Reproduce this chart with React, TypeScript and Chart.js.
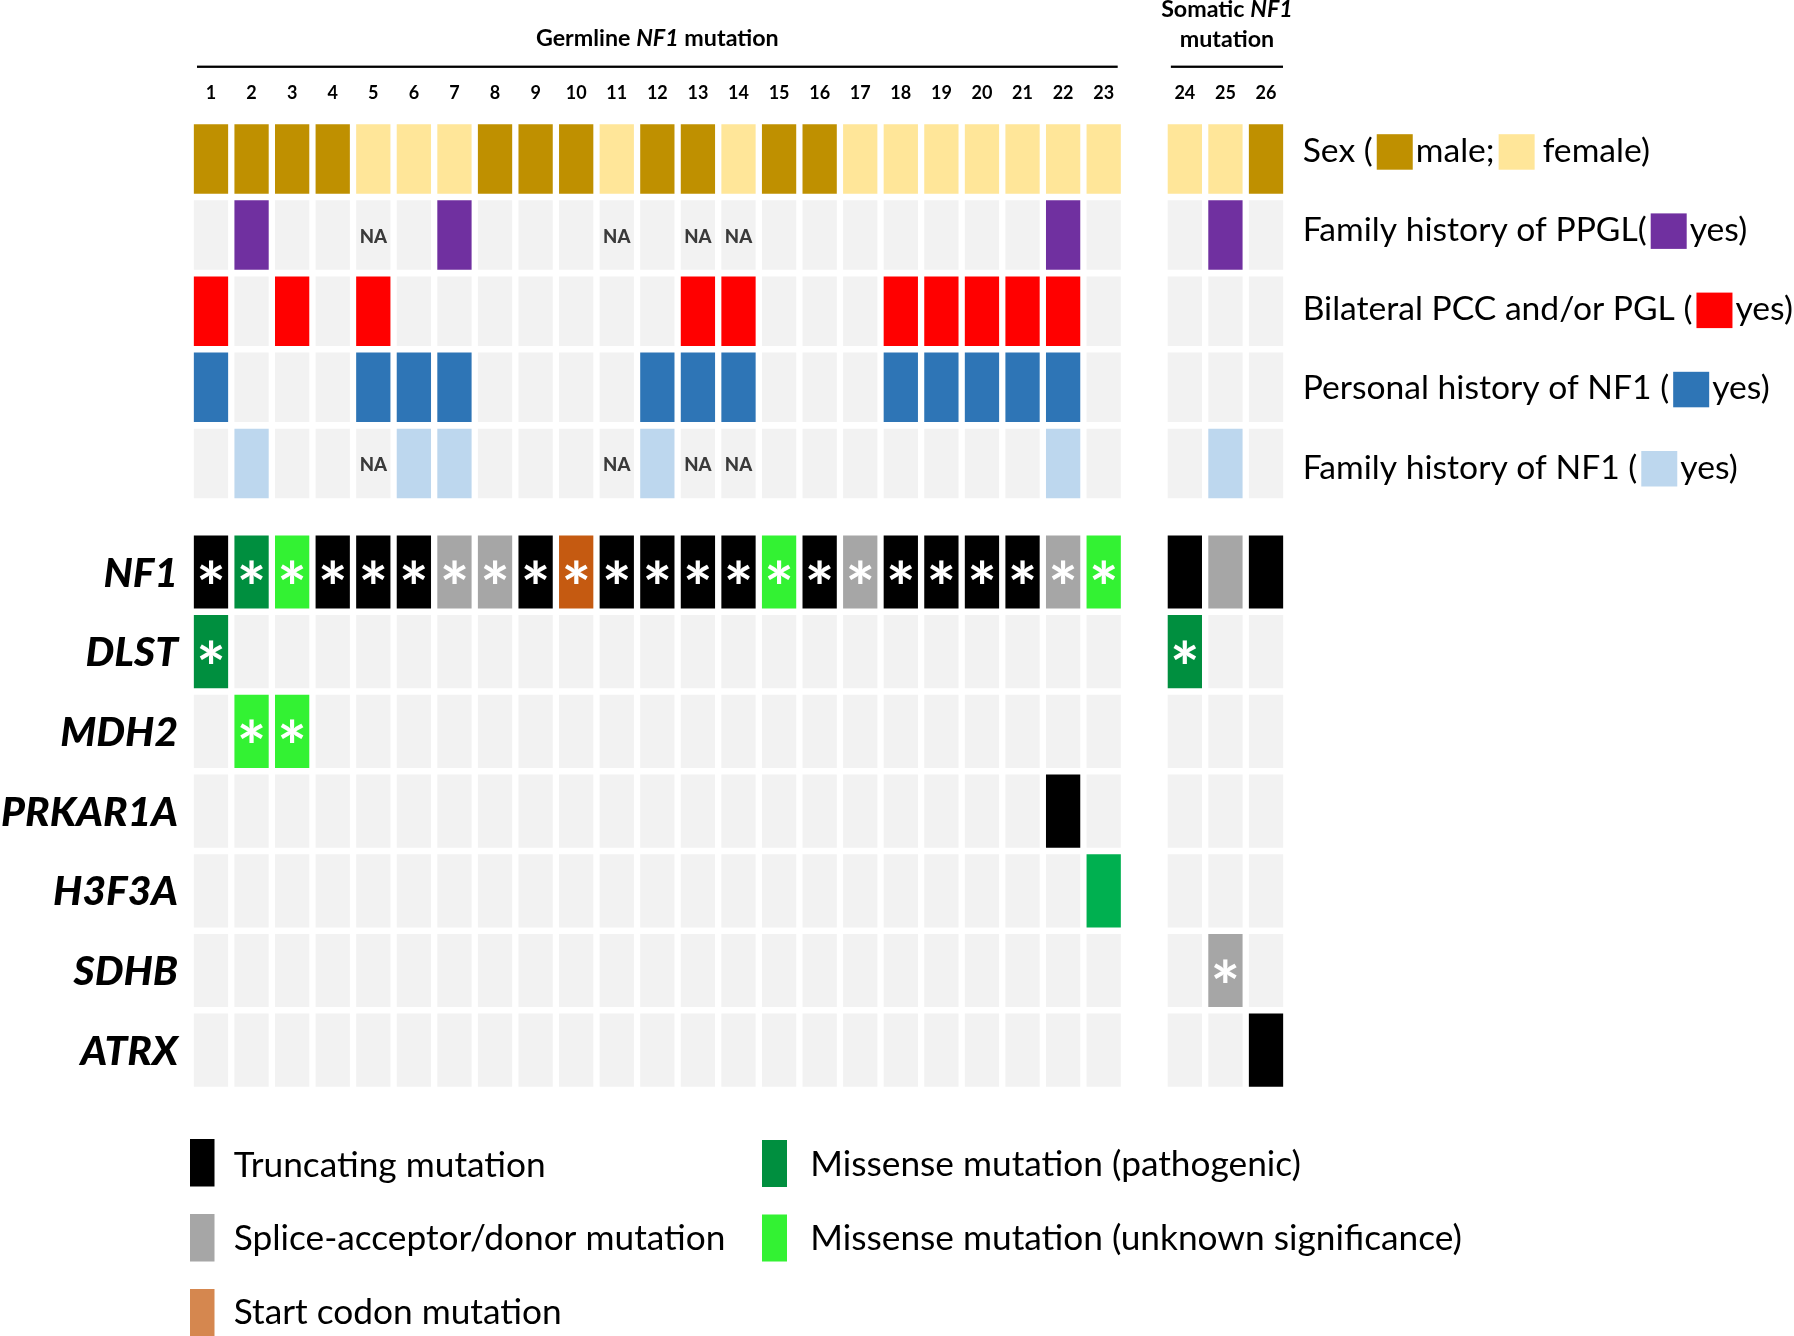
import React, { useEffect, useRef } from 'react';
import { Chart, registerables } from 'chart.js';

Chart.register(...registerables);

// ---------------- DATA ----------------
const PATIENTS = ['1', '2', '3', '4', '5', '6', '7', '8', '9', '10', '11', '12', '13', '14', '15', '16', '17', '18', '19', '20', '21', '22', '23', '24', '25', '26'];
const GERMLINE_COUNT = 23; // patients 1-23: germline NF1; 24-26: somatic NF1

const SEX = ['M', 'M', 'M', 'M', 'F', 'F', 'F', 'M', 'M', 'M', 'F', 'M', 'M', 'F', 'M', 'M', 'F', 'F', 'F', 'F', 'F', 'F', 'F', 'F', 'F', 'M'];
const FAMILY_PPGL = [0, 1, 0, 0, 'NA', 0, 1, 0, 0, 0, 'NA', 0, 'NA', 'NA', 0, 0, 0, 0, 0, 0, 0, 1, 0, 0, 1, 0];
const BILATERAL = [1, 0, 1, 0, 1, 0, 0, 0, 0, 0, 0, 0, 1, 1, 0, 0, 0, 1, 1, 1, 1, 1, 0, 0, 0, 0];
const PERSONAL_NF1 = [1, 0, 0, 0, 1, 1, 1, 0, 0, 0, 0, 1, 1, 1, 0, 0, 0, 1, 1, 1, 1, 1, 0, 0, 0, 0];
const FAMILY_NF1 = [0, 1, 0, 0, 'NA', 1, 1, 0, 0, 0, 'NA', 1, 'NA', 'NA', 0, 0, 0, 0, 0, 0, 0, 1, 0, 0, 1, 0];

const GENES = ['NF1', 'DLST', 'MDH2', 'PRKAR1A', 'H3F3A', 'SDHB', 'ATRX'];
// T truncating, S splice-acceptor/donor, C start codon, P missense pathogenic, U missense unknown, H other missense; '*' marks asterisk
const NF1_MUT = ['T*', 'P*', 'U*', 'T*', 'T*', 'T*', 'S*', 'S*', 'T*', 'C*', 'T*', 'T*', 'T*', 'T*', 'U*', 'T*', 'S*', 'T*', 'T*', 'T*', 'T*', 'S*', 'U*', 'T', 'S', 'T'];
const DLST_MUT: Record<string, string> = { '1': 'P*', '24': 'P*' };
const MDH2_MUT: Record<string, string> = { '2': 'U*', '3': 'U*' };
const PRKAR1A_MUT: Record<string, string> = { '22': 'T' };
const H3F3A_MUT: Record<string, string> = { '23': 'H' };
const SDHB_MUT: Record<string, string> = { '25': 'S*' };
const ATRX_MUT: Record<string, string> = { '26': 'T' };

const LEGEND_LEFT = ['Truncating mutation', 'Splice-acceptor/donor mutation', 'Start codon mutation'];
const LEGEND_RIGHT = ['Missense mutation (pathogenic)', 'Missense mutation (unknown significance)'];

// ---------------- STYLE ----------------
const COLORS: Record<string, string> = {
  M: '#BF9000', F: '#FFE699', empty: '#F2F2F2', ppgl: '#7030A0', bilat: '#FF0000',
  pnf1: '#2E75B6', fnf1: '#BDD7EE', T: '#000000', S: '#A6A6A6', C: '#C55A11',
  P: '#008F3F', U: '#33F233', H: '#00B050', legendStart: '#D5874F',
};
const FONT = 'Lato, "Open Sans", sans-serif';

const Y_MIN = 115;
const Y_MAX = 1095;
const CLIN_TOP = 159;
const CLIN_PITCH = 76.1;
const CLIN_H = 69.5;
const GENE_TOP = 572;
const GENE_PITCH = 79.7;
const GENE_H = 73.2;

const labels = [...PATIENTS.slice(0, GERMLINE_COUNT), '', ...PATIENTS.slice(GERMLINE_COUNT)];
const catIndex = (p: number) => (p < GERMLINE_COUNT ? p : p + 1);
const patientAt = (k: number) => (k < GERMLINE_COUNT ? k : k === GERMLINE_COUNT ? -1 : k - 1);

const geneRows: string[][] = [
  NF1_MUT,
  PATIENTS.map((id) => DLST_MUT[id] || ''),
  PATIENTS.map((id) => MDH2_MUT[id] || ''),
  PATIENTS.map((id) => PRKAR1A_MUT[id] || ''),
  PATIENTS.map((id) => H3F3A_MUT[id] || ''),
  PATIENTS.map((id) => SDHB_MUT[id] || ''),
  PATIENTS.map((id) => ATRX_MUT[id] || ''),
];

const clinicalRows: { values: any[]; color: (v: any) => string }[] = [
  { values: SEX, color: (v) => (v === 'M' ? COLORS.M : COLORS.F) },
  { values: FAMILY_PPGL, color: (v) => (v === 1 ? COLORS.ppgl : COLORS.empty) },
  { values: BILATERAL, color: (v) => (v === 1 ? COLORS.bilat : COLORS.empty) },
  { values: PERSONAL_NF1, color: (v) => (v === 1 ? COLORS.pnf1 : COLORS.empty) },
  { values: FAMILY_NF1, color: (v) => (v === 1 ? COLORS.fnf1 : COLORS.empty) },
];

function buildDatasets() {
  const ds: any[] = [];
  clinicalRows.forEach((row, r) => {
    const c = CLIN_TOP + r * CLIN_PITCH;
    ds.push({
      label: 'clin' + r,
      data: labels.map((_, k) => (patientAt(k) < 0 ? null : [c - CLIN_H / 2, c + CLIN_H / 2])),
      backgroundColor: labels.map((_, k) => (patientAt(k) < 0 ? 'transparent' : row.color(row.values[patientAt(k)]))),
    });
  });
  geneRows.forEach((row, r) => {
    const c = GENE_TOP + r * GENE_PITCH;
    ds.push({
      label: GENES[r],
      data: labels.map((_, k) => (patientAt(k) < 0 ? null : [c - GENE_H / 2, c + GENE_H / 2])),
      backgroundColor: labels.map((_, k) => {
        const p = patientAt(k);
        if (p < 0) return 'transparent';
        const code = row[p];
        return code ? COLORS[code[0]] : COLORS.empty;
      }),
    });
  });
  return ds.map((d) => ({
    ...d,
    grouped: false,
    barPercentage: 0.845,
    categoryPercentage: 1,
    borderWidth: 0,
    borderSkipped: false,
  }));
}

type Seg = { t: string; italic?: boolean };

function fontStr(size: number, weight: string, italic: boolean) {
  return `${italic ? 'italic ' : ''}${weight} ${size}px ${FONT}`;
}
function richWidth(ctx: CanvasRenderingContext2D, segs: Seg[], size: number, weight: string) {
  let w = 0;
  segs.forEach((s) => {
    ctx.font = fontStr(size, weight, !!s.italic);
    w += ctx.measureText(s.t).width;
  });
  return w;
}
function drawRich(ctx: CanvasRenderingContext2D, segs: Seg[], cx: number, baseline: number, size: number, weight: string) {
  const w = richWidth(ctx, segs, size, weight);
  let x = cx - w / 2;
  ctx.textAlign = 'left';
  ctx.textBaseline = 'alphabetic';
  segs.forEach((s) => {
    ctx.font = fontStr(size, weight, !!s.italic);
    ctx.fillText(s.t, x, baseline);
    x += ctx.measureText(s.t).width;
  });
}
function fit(ctx: CanvasRenderingContext2D, text: string, weight: string, italic: boolean, target: number) {
  ctx.font = fontStr(100, weight, italic);
  return (100 * target) / ctx.measureText(text).width;
}

const overlay = {
  id: 'overlay',
  afterDatasetsDraw(chart: any) {
    const ctx: CanvasRenderingContext2D = chart.ctx;
    const xs = chart.scales.x;
    const ys = chart.scales.y;
    const colX = (p: number) => xs.getPixelForValue(catIndex(p));
    ctx.save();
    ctx.fillStyle = '#000';

    // header lines
    const gL = colX(0) - 14;
    const gR = colX(GERMLINE_COUNT - 1) + 14;
    const sL = colX(GERMLINE_COUNT) - 14;
    const sR = colX(PATIENTS.length - 1) + 17;
    ctx.fillRect(gL, 65.6, gR - gL, 2.3);
    ctx.fillRect(sL, 65.6, sR - sL, 2.3);

    // header texts
    const germ: Seg[] = [{ t: 'Germline ' }, { t: 'NF1', italic: true }, { t: ' mutation' }];
    const hw = richWidth(ctx, germ, 100, 'bold');
    const hSize = (100 * 243) / hw;
    drawRich(ctx, germ, (gL + gR) / 2, 46, hSize, 'bold');
    drawRich(ctx, [{ t: 'Somatic ' }, { t: 'NF1', italic: true }], (sL + sR) / 2, 16.7, hSize, 'bold');
    drawRich(ctx, [{ t: 'mutation' }], (sL + sR) / 2, 46.5, hSize, 'bold');

    // column numbers
    ctx.font = fontStr(18, 'bold', false);
    ctx.textAlign = 'center';
    ctx.textBaseline = 'alphabetic';
    PATIENTS.forEach((id, p) => ctx.fillText(id, colX(p), 99.3));

    // NA labels
    ctx.font = fontStr(18.5, '900', false);
    ctx.fillStyle = '#3A3A3A';
    const capNA = ctx.measureText('N').actualBoundingBoxAscent;
    [1, 4].forEach((r) => {
      const cy = ys.getPixelForValue(CLIN_TOP + r * CLIN_PITCH);
      clinicalRows[r].values.forEach((v, p) => {
        if (v === 'NA') ctx.fillText('NA', colX(p), cy + capNA / 2 + 1);
      });
    });

    // asterisks
    ctx.fillStyle = '#FFFFFF';
    ctx.font = fontStr(100, 'bold', false);
    const m100 = ctx.measureText('*');
    const aw = m100.actualBoundingBoxLeft + m100.actualBoundingBoxRight;
    const aSize = (100 * 23) / aw;
    ctx.font = fontStr(aSize, 'bold', false);
    const am = ctx.measureText('*');
    const aOff = (am.actualBoundingBoxAscent - am.actualBoundingBoxDescent) / 2;
    geneRows.forEach((row, r) => {
      const cy = ys.getPixelForValue(GENE_TOP + r * GENE_PITCH);
      row.forEach((code, p) => {
        if (code && code.indexOf('*') >= 0) ctx.fillText('*', colX(p), cy + aOff);
      });
    });

    // gene labels (left)
    ctx.fillStyle = '#000';
    const gSize = fit(ctx, 'PRKAR1A', '900', true, 177);
    ctx.font = fontStr(gSize, '900', true);
    const gCap = ctx.measureText('H').actualBoundingBoxAscent;
    ctx.textAlign = 'right';
    GENES.forEach((g, r) => {
      const cy = ys.getPixelForValue(GENE_TOP + r * GENE_PITCH);
      ctx.fillText(g, 178, cy + gCap / 2);
    });

    // clinical labels (right)
    const sq = 36;
    const rightRows: (string | { c: string })[][] = [
      ['Sex (', { c: COLORS.M }, 'male;', { c: COLORS.F }, 'female)'],
      ['Family history of PPGL(', { c: COLORS.ppgl }, 'yes)'],
      ['Bilateral PCC and/or PGL (', { c: COLORS.bilat }, 'yes)'],
      ['Personal history of NF1 (', { c: COLORS.pnf1 }, 'yes)'],
      ['Family history of NF1 (', { c: COLORS.fnf1 }, 'yes)'],
    ];
    // fit the widest row (Bilateral ...) to end at the page edge like the reference
    const s1 = fit(ctx, 'Bilateral PCC and/or PGL (', 'normal', false, 100);
    ctx.font = fontStr(s1, 'normal', false);
    const yesW = ctx.measureText('yes)').width;
    const rSize = (s1 * (1790 - 1302.7 - sq - 4)) / (100 + yesW);
    ctx.font = fontStr(rSize, 'normal', false);
    ctx.textAlign = 'left';
    rightRows.forEach((items, r) => {
      const base = 161.7 + r * 79.2;
      let x = 1302.7;
      items.forEach((it, i) => {
        if (typeof it === 'string') {
          ctx.fillStyle = '#000';
          ctx.fillText(it, x, base);
          x += ctx.measureText(it).width + (i < items.length - 1 ? 4 : 0);
        } else {
          ctx.fillStyle = it.c;
          ctx.fillRect(x, base - 27.5, sq, 35.5);
          x += sq + (i === 1 ? 3 : 8);
        }
      });
    });

    // legend
    const lSize = fit(ctx, LEGEND_RIGHT[1], 'normal', false, 652);
    ctx.font = fontStr(lSize, 'normal', false);
    const leftColors = [COLORS.T, COLORS.S, COLORS.legendStart];
    const rightColors = [COLORS.P, COLORS.U];
    LEGEND_LEFT.forEach((t, i) => {
      ctx.fillStyle = leftColors[i];
      ctx.fillRect(190, 1139 + i * 75, 24.5, 47.5);
      ctx.fillStyle = '#000';
      ctx.fillText(t, 233.7, 1176.5 + i * 73.5);
    });
    LEGEND_RIGHT.forEach((t, i) => {
      ctx.fillStyle = rightColors[i];
      ctx.fillRect(762, 1140 + i * 74.5, 25, 47);
      ctx.fillStyle = '#000';
      ctx.fillText(t, 810.3, 1176 + i * 74);
    });

    ctx.restore();
  },
};

export default function App() {
  const ref = useRef<HTMLCanvasElement | null>(null);
  useEffect(() => {
    if (!ref.current) return;
    const chart = new Chart(ref.current, {
      type: 'bar',
      data: { labels, datasets: buildDatasets() as any },
      options: {
        animation: false,
        responsive: false,
        events: [],
        layout: { padding: { left: 190.7, right: 507.7, top: Y_MIN, bottom: 1336 - Y_MAX } },
        plugins: { legend: { display: false }, tooltip: { enabled: false } },
        scales: {
          x: { type: 'category', display: false, offset: true, grid: { display: false } },
          y: { type: 'linear', display: false, min: Y_MIN, max: Y_MAX, reverse: true },
        },
      } as any,
      plugins: [overlay],
    });
    return () => chart.destroy();
  }, []);
  return (
    <div style={{ position: 'absolute', left: 0, top: 0, width: 1794, height: 1336, background: '#fff' }}>
      <canvas ref={ref} width={1794} height={1336} style={{ width: 1794, height: 1336 }} />
    </div>
  );
}
